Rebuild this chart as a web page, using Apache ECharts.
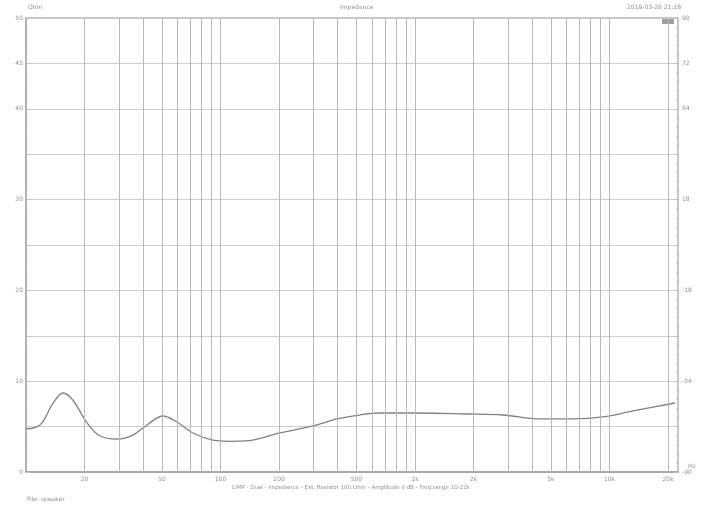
<!DOCTYPE html>
<html><head><meta charset="utf-8">
<script src="https://cdn.jsdelivr.net/npm/echarts@6/dist/echarts.min.js"></script>
<style>html,body{margin:0;padding:0;background:#fff}#c{width:705px;height:508px}</style>
</head><body><div id="c"></div>
<script>
const freqHz = [10, 11.8, 13.8, 15.5, 17.4, 20.6, 24.0, 29.4, 35.5, 41.9, 50.6, 59.7, 72.2, 91.5, 110, 140, 202, 299, 397, 521, 650, 1024, 1849, 2833, 4393, 6490, 9260, 13210, 20470, 21700];
const impedanceOhm = [4.74, 5.18, 7.60, 8.70, 7.93, 5.40, 3.96, 3.63, 4.07, 5.18, 6.17, 5.51, 4.30, 3.50, 3.38, 3.45, 4.30, 5.07, 5.84, 6.28, 6.50, 6.50, 6.39, 6.28, 5.84, 5.84, 6.06, 6.72, 7.49, 7.60];
const gridFreqs = [20,30,40,50,60,70,80,90,100,200,300,400,500,600,700,800,900,1000,2000,3000,4000,5000,6000,7000,8000,9000,10000,20000];
const labelFreqs = [10,20,50,100,200,500,1000,2000,5000,10000,20000];
const leftLabels = [0,10,20,30,40,45,50];
const rightLabels = [-90,-54,-18,18,54,72,90];

const fmtF = v => v >= 1000 ? (v/1000) + 'k' : String(v);
const chart = echarts.init(document.getElementById('c'));
const txt = '#8f8f8f';
const mlData = [];
gridFreqs.forEach(f => mlData.push({xAxis: f, label: {show: labelFreqs.includes(f), formatter: fmtF(f)}}));
mlData.push({xAxis: 10, lineStyle: {opacity: 0}, label: {show: true, formatter: '10'}});

chart.setOption({
  animation: false,
  grid: {left: 26, right: 27, top: 18, bottom: 36},
  xAxis: {
    type: 'log', logBase: 10, min: 10, max: 22500,
    axisLine: {show: true, onZero: false, lineStyle: {color: '#a8a8a8', width: 2}},
    axisTick: {show: false}, axisLabel: {show: false}, splitLine: {show: false}
  },
  yAxis: [{
    type: 'value', min: 0, max: 50, interval: 5, position: 'left',
    axisLine: {show: true, lineStyle: {color: '#b0b0b0', width: 2}},
    axisTick: {show: true, inside: true, length: 4, lineStyle: {color: '#c0c0c0'}},
    minorTick: {show: true, splitNumber: 5, length: 2, lineStyle: {color: '#c0c0c0'}},
    axisLabel: {color: txt, fontSize: 6, margin: 3, fontFamily: 'DejaVu Sans',
      formatter: v => leftLabels.includes(v) ? String(v) : ''},
    splitLine: {show: true, lineStyle: {color: '#cdcdcd', width: 1}}
  }, {
    type: 'value', min: -90, max: 90, interval: 18, position: 'right',
    axisLine: {show: true, lineStyle: {color: '#b4b4b4', width: 1.5}},
    axisTick: {show: true, inside: true, length: 4, lineStyle: {color: '#c0c0c0'}},
    minorTick: {show: true, splitNumber: 5, length: 2, lineStyle: {color: '#c0c0c0'}},
    axisLabel: {color: txt, fontSize: 6, margin: 4, fontFamily: 'DejaVu Sans',
      formatter: v => rightLabels.includes(v) ? String(v) : ''},
    splitLine: {show: false}
  }],
  series: [{
    type: 'line', yAxisIndex: 0, showSymbol: false, smooth: 0.35,
    data: freqHz.map((f, i) => [f, impedanceOhm[i]]),
    lineStyle: {color: '#808080', width: 1.3},
    markLine: {
      silent: true, symbol: 'none', animation: false,
      lineStyle: {color: '#b8b8b8', width: 1, type: 'solid'},
      label: {position: 'start', distance: 4, color: txt, fontSize: 6, fontFamily: 'DejaVu Sans'},
      data: mlData
    }
  }],
  graphic: [
    {type: 'line', shape: {x1: 26, y1: 18, x2: 678, y2: 18}, style: {stroke: '#b0b0b0', lineWidth: 1.5}},
    {type: 'text', left: 28, top: 4, style: {text: 'Ohm', fill: txt, font: '6px DejaVu Sans'}},
    {type: 'text', left: 340, top: 4, style: {text: 'Impedance', fill: txt, font: '6px DejaVu Sans'}},
    {type: 'text', left: 627, top: 4, style: {text: '2019-03-26 21:18', fill: txt, font: '6px DejaVu Sans'}},
    {type: 'rect', shape: {x: 662, y: 19, width: 12, height: 5}, style: {fill: '#a0a0a0'}},
    {type: 'text', left: 688, top: 463, style: {text: 'Hz', fill: txt, font: '6px DejaVu Sans'}},
    {type: 'text', left: 232, top: 485, style: {text: 'LIMP - Dual - Impedance - Ext. Resistor 100 Ohm - Amplitude 0 dB - Freq.range 10-22k', fill: txt, font: '5.5px DejaVu Sans'}},
    {type: 'text', left: 27, top: 496, style: {text: 'File: speaker', fill: txt, font: '6px DejaVu Sans'}}
  ]
});
</script></body></html>
